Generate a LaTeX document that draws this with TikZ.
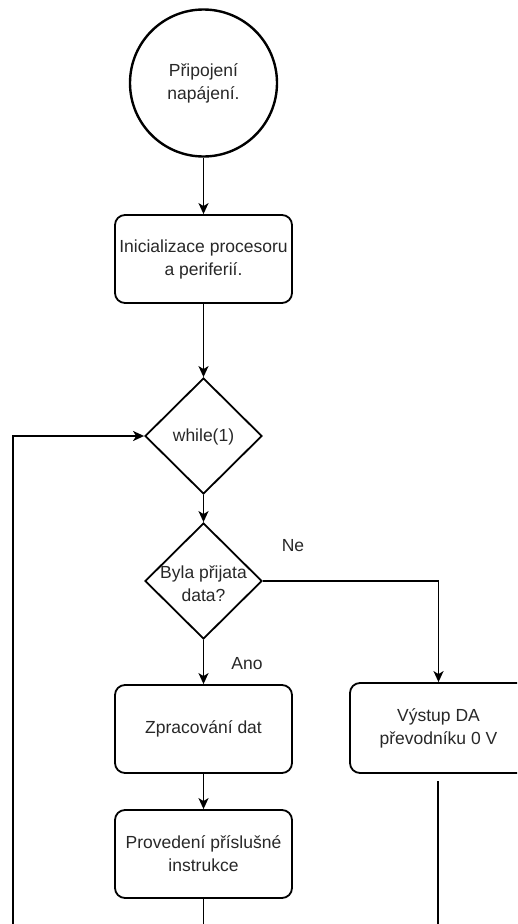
\documentclass[tikz,border=0pt]{standalone}
\usepackage{fontspec}
\setmainfont{Liberation Sans}
\usetikzlibrary{shapes.geometric,arrows.meta}
\definecolor{txtcol}{RGB}{40,40,40}
\tikzset{
  base/.style={draw=black, line width=1.8pt, font=\fontsize{17.5}{23}\selectfont, text=txtcol, align=center},
  startnode/.style={base, circle, line width=2.4pt, minimum size=147pt, inner sep=0pt},
  procbox/.style={base, rectangle, rounded corners=10pt, minimum width=177pt, minimum height=88pt, inner sep=0pt},
  decision/.style={base, diamond, minimum width=117pt, minimum height=116pt, inner sep=0pt},
  plain/.style={font=\fontsize{17.5}{23}\selectfont, text=txtcol, align=center, inner sep=0pt},
  flow/.style={line width=1.8pt, -{Stealth[length=11pt,width=10pt,inset=3pt]}},
  wire/.style={line width=1.8pt}
}
\begin{document}
\begin{tikzpicture}[x=1pt,y=-1pt]
  \clip (0,0) rectangle (517,924);
  \fill[white] (0,0) rectangle (517,924);

  % main column
  \node[startnode] (start) at (203.5,83) {Připojení\\napájení.};
  \node[procbox] (init) at (203.5,259) {Inicializace procesoru\\a periferií.};
  \node[decision] (loop) at (203.5,436) {};
  \node[plain] (looptxt) at (203.5,437) {while(1)};
  \node[decision] (recv) at (203.5,581) {};
  \node[plain] (recvtxt) at (203.5,584) {Byla přijata\\data?};
  \node[procbox] (proc) at (203.5,729) {Zpracování dat};
  \node[procbox] (exec) at (203.5,854) {Provedení příslušné\\instrukce};

  % right branch
  \node[procbox, minimum height=90pt] (dac) at (438.5,728) {Výstup DA\\převodníku 0 V};

  % branch labels
  \node[plain] (ne) at (293,546) {Ne};
  \node[plain] (ano) at (247,664) {Ano};

  % continuation points below the visible area
  \coordinate (loopback) at (13,940);
  \coordinate (execout) at (203.5,940);
  \coordinate (dacin) at (438,781);
  \coordinate (dacout) at (438,940);

  % connectors
  \draw[flow] (start) -- (init);
  \draw[flow] (init) -- (loop);
  \draw[flow] (loop) -- (recv);
  \draw[flow] (recv) -- (proc);
  \draw[flow] (proc) -- (exec);
  \draw[flow] (recv.east) -| (dac.north);
  \draw[flow] (loopback) |- (loop.west);
  \draw[wire] (exec) -- (execout);
  \draw[wire] (dacin) -- (dacout);
\end{tikzpicture}
\end{document}
